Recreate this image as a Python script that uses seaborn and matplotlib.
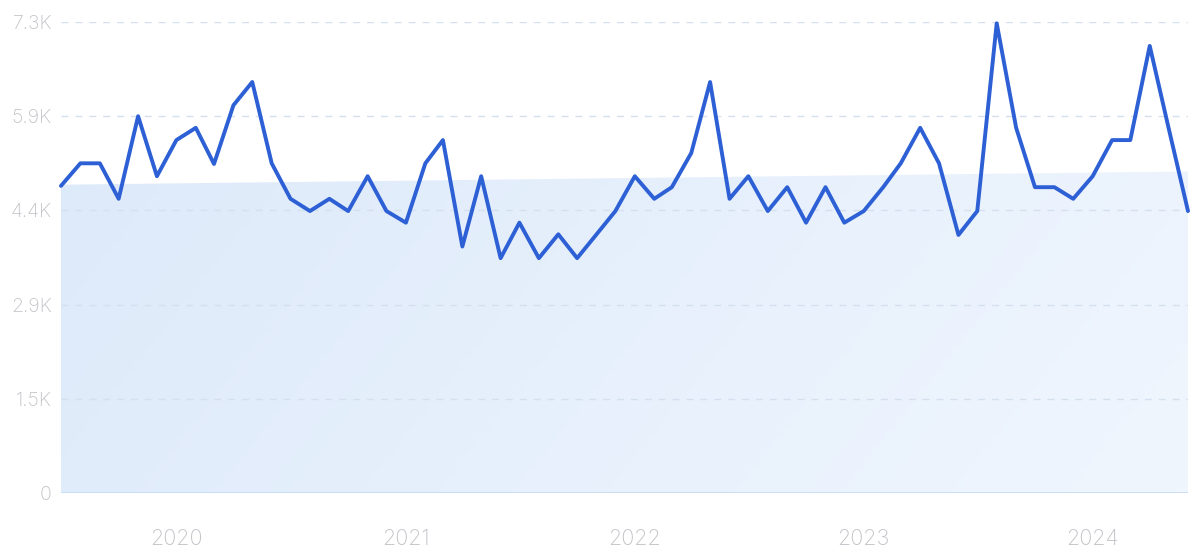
import numpy as np
import pandas as pd
import matplotlib
matplotlib.use("Agg")
import matplotlib.pyplot as plt
import seaborn as sns
from matplotlib.colors import LinearSegmentedColormap

# ---- data ----
start_month = "2019-07-01"
values = [4760, 5110, 5110, 4560, 5840, 4910, 5470, 5660, 5100, 6010,
          6370, 5110, 4560, 4370, 4560, 4370, 4910, 4370, 4190, 5110,
          5470, 3820, 4910, 3640, 4190, 3640, 4010, 3640, 4010, 4370,
          4910, 4560, 4740, 5270, 6370, 4560, 4910, 4370, 4740, 4190,
          4740, 4190, 4370, 4740, 5110, 5660, 5110, 4000, 4370, 7280,
          5660, 4740, 4740, 4560, 4910, 5470, 5470, 6930, 5660, 4370]
y_ticks = [0, 1460, 2920, 4380, 5840, 7300]
y_tick_labels = ["0", "1.5K", "2.9K", "4.4K", "5.9K", "7.3K"]
year_ticks = ["2020", "2021", "2022", "2023", "2024"]

dates = pd.date_range(start_month, periods=len(values), freq="MS")
df = pd.DataFrame({"date": dates, "value": values})

sns.set_theme(style="white")
plt.rcParams["font.family"] = ["Inter", "DejaVu Sans"]

fig = plt.figure(figsize=(12, 5.56), dpi=100)
ax = fig.add_axes([0.0508, 0.1133, 0.9392, 0.8471])

# trend (linear regression on the series)
xnum = np.arange(len(values))
slope, intercept = np.polyfit(xnum, values, 1)
trend = intercept + slope * xnum

fill = ax.fill_between(df["date"], 0, trend, color="none", lw=0)
cmap = LinearSegmentedColormap.from_list("g", ["#dce9fa", "#f0f6fe"])
gx, gy = np.meshgrid(np.linspace(0, 1, 200), np.linspace(0, 1, 100))
grad = 0.75 * gx + 0.25 * gy
im = ax.imshow(grad, cmap=cmap, aspect="auto", origin="upper",
               extent=[matplotlib.dates.date2num(dates[0]), matplotlib.dates.date2num(dates[-1]), 0, 7300],
               zorder=1)
im.set_clip_path(fill.get_paths()[0], transform=ax.transData)

sns.lineplot(data=df, x="date", y="value", ax=ax, color="#2d5fd5", lw=2.8,
             zorder=4, clip_on=False)

ax.set_xlim(dates[0], dates[-1])
ax.set_ylim(0, 7300)

for t in y_ticks[1:]:
    ax.axhline(t, color="#d5e0ef", lw=1, ls=(0, (5, 5)), zorder=2)
ax.axhline(0, color="#c6daf5", lw=1.2, zorder=3)

ax.set_yticks(y_ticks)
ax.set_yticklabels(y_tick_labels, fontweight="light")
xt = [pd.Timestamp(f"{y}-01-01") for y in year_ticks]
ax.set_xticks(xt)
ax.set_xticklabels(year_ticks, fontweight="light")
ax.tick_params(axis="both", length=0, colors="#c2c3c8")
ax.tick_params(axis="y", pad=6.5, labelsize=14)
ax.tick_params(axis="x", pad=26, labelsize=15.5)
ax.set_xlabel("")
ax.set_ylabel("")
for s in ax.spines.values():
    s.set_visible(False)
ax.grid(False)

fig.savefig("out.png", dpi=100)
